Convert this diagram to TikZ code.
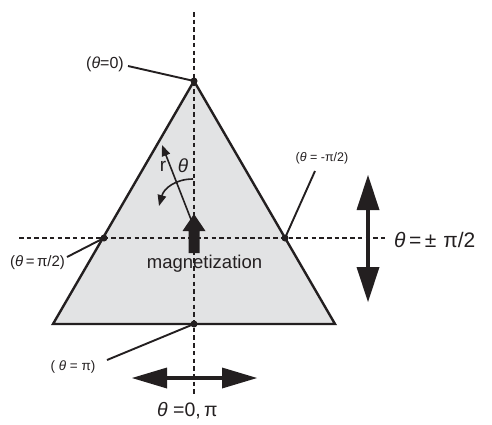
\documentclass[tikz,border=0pt]{standalone}
\usepackage{fontspec}
\setmainfont{Liberation Sans}
\usetikzlibrary{arrows.meta}
\definecolor{trifill}{HTML}{E2E3E4}
\definecolor{ink}{HTML}{231F20}
\newcommand{\thx}{\textit{θ}}
\tikzset{
  dashline/.style={draw=ink, line width=2.2pt, dash pattern=on 4.5pt off 3.2pt},
  leader/.style={draw=ink, line width=1.9pt},
  pt/.style={circle, fill=ink, inner sep=0pt, minimum size=7pt},
  lab/.style={inner sep=0pt, text=ink},
  bigarrow/.style={fill=ink},
  thinarrow/.style={draw=ink, line width=1.6pt, -{Triangle[length=11pt,width=8.5pt]}}
}
\begin{document}
\begin{tikzpicture}[x=1pt,y=-1pt]
\useasboundingbox (0,0) rectangle (492,424);
% triangle
\coordinate (A) at (194,81);
\coordinate (BL) at (53,324);
\coordinate (BR) at (335,324);
\fill[trifill] (A) -- (BL) -- (BR) -- cycle;
% dashed axes
\coordinate (vt) at (194,12);
\coordinate (vb) at (194,396);
\coordinate (hl) at (19,238);
\coordinate (hr) at (386,238);
\draw[dashline] (vt) -- (vb);
\draw[dashline] (hl) -- (hr);
\draw[draw=ink, line width=2.4pt, line join=miter] (A) -- (BL) -- (BR) -- cycle;
% points
\node[pt] (p0) at (194,81) {};
\node[pt] (pl) at (104,238) {};
\node[pt] (pr) at (285,238) {};
\node[pt] (pb) at (194,324) {};
% labels with leaders
\node[lab, font=\fontsize{16}{18}\selectfont] (l0) at (105,64) {(\thx=0)};
\node[lab, font=\fontsize{15}{17}\selectfont] (ll) at (37.5,263) {(\thx\,=\,π/2)};
\node[lab, font=\fontsize{12.5}{14}\selectfont] (lr) at (322,158) {(\thx\ = -π/2)};
\node[lab, font=\fontsize{13.5}{15}\selectfont] (lb) at (73,367) {( \thx\ = π)};
\coordinate (l0e) at (128,66);
\coordinate (lle) at (67,257);
\coordinate (lre) at (315,171);
\coordinate (lbe) at (107,360);
\draw[leader] (l0e) -- (p0.center);
\draw[leader] (lle) -- (pl.center);
\draw[leader] (lre) -- (pr.center);
\draw[leader] (lbe) -- (pb.center);
% magnetization arrow
\fill[bigarrow] (188.5,253) -- (199.5,253) -- (199.5,231) -- (205.5,231) -- (194,214) -- (182.5,231) -- (188.5,231) -- cycle;
\node[lab, font=\fontsize{18.5}{20}\selectfont, anchor=base] (mag) at (204.5,268) {magnetization};
% r arrow and theta
\coordinate (rs) at (192,222);
\coordinate (re) at (162,145);
\draw[thinarrow] (rs) -- (re);
\node[lab, font=\fontsize{19}{21}\selectfont] (rl) at (163,166) {r};
\node[lab, font=\fontsize{19}{21}\selectfont] (tl) at (183,166) {\thx};
\coordinate (cs) at (193,179);
\coordinate (ce) at (159,206);
\draw[thinarrow] (cs) .. controls (176,179) and (164,188) .. (ce);
% vertical double arrow
\fill[bigarrow] (368,175) -- (379.5,210) -- (356.5,210) -- cycle;
\fill[bigarrow] (368,302) -- (379.5,267) -- (356.5,267) -- cycle;
\fill[bigarrow] (365.8,209) rectangle (370.2,268);
\node[lab, font=\fontsize{21}{23}\selectfont, anchor=base west] (vl) at (394,247) {\thx\,=\,±\,\,π/2};
% horizontal double arrow
\fill[bigarrow] (132,378) -- (167,367.5) -- (167,388.5) -- cycle;
\fill[bigarrow] (257,378) -- (222,367.5) -- (222,388.5) -- cycle;
\fill[bigarrow] (166,375.8) rectangle (223,380.2);
\node[lab, font=\fontsize{19.5}{21}\selectfont, anchor=base west] (hlab) at (157,416) {\thx\ =0,\,π};
\end{tikzpicture}
\end{document}
